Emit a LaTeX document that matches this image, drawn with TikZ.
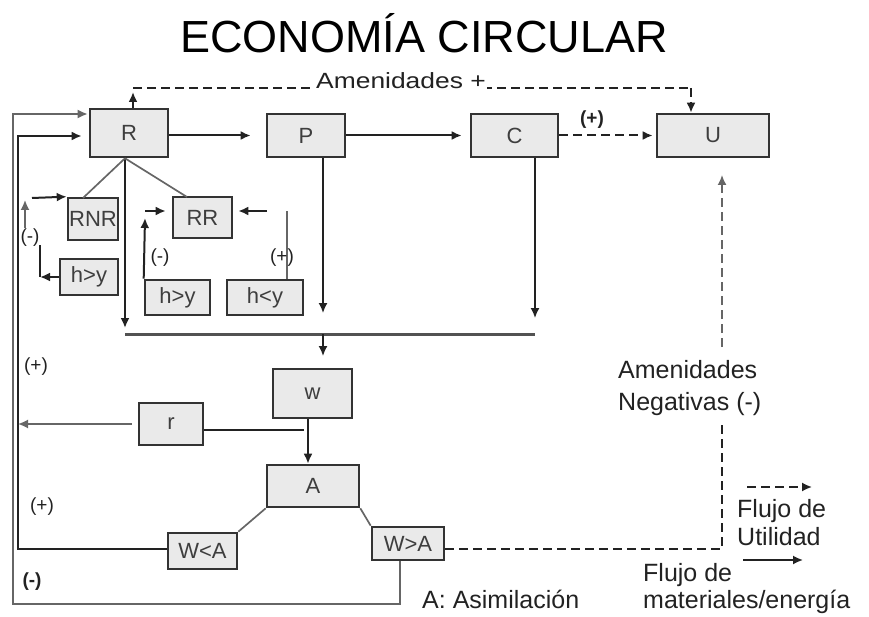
\documentclass[tikz,border=0pt]{standalone}
\usepackage{fontspec}
\setmainfont{Liberation Sans}
\usetikzlibrary{arrows.meta,calc}
\definecolor{boxfill}{HTML}{EAEAEA}
\definecolor{boxline}{HTML}{333333}
\definecolor{lnk}{HTML}{222222}
\definecolor{lgray}{HTML}{666666}
\definecolor{btext}{HTML}{3E3E3E}
\newcommand{\myfs}[2]{\fontsize{#1}{#2}\selectfont}
\begin{document}
\begin{tikzpicture}[x=1pt,y=-1pt,
  box/.style={draw=boxline, fill=boxfill, line width=2.6pt, inner sep=0pt, text=btext, font=\myfs{22}{25}},
  lk/.style={draw=lnk, line width=2pt},
  thinlk/.style={draw=lgray, line width=1.7pt},
  arr/.style={-{Latex[length=10pt,width=9pt]}},
  dashlk/.style={draw=lnk, line width=2pt, dash pattern=on 9pt off 5pt},
  lab/.style={font=\myfs{25}{28}, inner sep=0pt, anchor=base west, text=lnk},
  sgn/.style={font=\myfs{19}{22}, inner sep=0pt, text=lnk},
  bsgn/.style={font=\bfseries\myfs{19}{22}, inner sep=0pt, text=lnk}]
\useasboundingbox (0,0) rectangle (869,617);

% ---------- boxes ----------
\node[box, minimum width=78pt, minimum height=48pt] (R)   at (129,133)   {R};
\node[box, minimum width=78pt, minimum height=43pt] (P)   at (306,135.5) {P};
\node[box, minimum width=87pt, minimum height=43pt] (C)   at (514.5,135.5) {C};
\node[box, minimum width=112pt, minimum height=43pt] (U)  at (713,135.5)  {U};
\node[box, minimum width=50pt, minimum height=42pt] (RNR) at (93,219)    {RNR};
\node[box, minimum width=59pt, minimum height=41pt] (RR)  at (202.5,217.5) {RR};
\node[box, minimum width=58pt, minimum height=36pt] (hy1) at (89,277)    {h>y};
\node[box, minimum width=65pt, minimum height=35pt] (hy2) at (177.5,297.5) {h>y};
\node[box, minimum width=76pt, minimum height=35pt] (hly) at (265,297.5) {h<y};
\node[box, minimum width=79pt, minimum height=49pt] (W)   at (312.5,393.5) {w};
\node[box, minimum width=64pt, minimum height=42pt] (r)   at (171,424)   {r};
\node[box, minimum width=92pt, minimum height=42pt] (A)   at (313,486)   {A};
\node[box, minimum width=69pt, minimum height=36pt] (WlA) at (202.5,551) {W<A};
\node[box, minimum width=72pt, minimum height=33pt] (WgA) at (408,543.5) {W>A};

% ---------- title ----------
\node[font=\myfs{45}{50}, anchor=base, inner sep=0pt] (title) at (424,53) {ECONOMÍA CIRCULAR};

% ---------- Amenidades + ----------
\coordinate (amL) at (133,88);
\coordinate (amR) at (691,88);
\draw[lk, arr, shorten >=4pt] (R.north -| amL) -- (amL);
\draw[dashlk] (amL) -- (amR);
\draw[dashlk, arr] (amR) -- (amR |- U.north);
\node[font=\myfs{22}{24}, anchor=base, inner sep=1.5pt, fill=white, text=lnk] (amen) at (401,89) {\scalebox{1.2}[1]{Amenidades +}};

% ---------- main flow ----------
\draw[lk, arr, shorten >=15pt] (R.east |- P.west) -- (P.west);
\draw[lk, arr, shorten >=8pt] (P.east) -- (C.west);
\draw[dashlk, arr, shorten >=3pt] (C.east) -- (U.west);
\node[bsgn] (plusCU) at (592,120) {(+)};

% ---------- left feedback loops ----------
\coordinate (oB) at (13,604);
\coordinate (oT) at (13,114);
\draw[thinlk, arr, shorten >=1pt] ($(WgA.south)+(-8,0)$) |- (oB) -- (oT) -- (oT -| R.west);
\coordinate (iB) at (18,549);
\coordinate (iT) at (18,136);
\draw[lk, arr, shorten >=7pt] (WlA.west |- iB) -- (iB) -- (iT) -- (iT -| R.west);
\draw[thinlk, arr, shorten <=6pt] (r.west) -- (r.west -| iB);
\coordinate (rj) at (304,430);
\draw[lk] (r.east |- rj) -- (rj);

% ---------- w to A ----------
\coordinate (wa) at (308,440);
\draw[lk, line width=2.4pt, arr] (W.south -| wa) -- (A.north -| wa);

% ---------- collection line ----------
\coordinate (hL) at (125,334);
\coordinate (hR) at (535,334);
\coordinate (pd) at (323,313);
\coordinate (cd) at (535,318);
\coordinate (wd) at (323,356);
\draw[lk, arr, shorten >=6pt] (R.south -| hL) -- (hL);
\draw[lk, line width=1.6pt, arr] (P.south -| pd) -- (pd);
\draw[lk, line width=1.6pt, arr] (C.south -| cd) -- (cd);
\draw[draw=lgray!80!black, line width=3pt] (hL) -- (hR);
\draw[lk, line width=1.6pt, arr] (hL -| wd) -- (wd);

% ---------- R to resources ----------
\coordinate (rnrT) at (83,198);
\coordinate (rrT) at (187,197);
\draw[thinlk] (R.south -| hL) -- (rnrT);
\draw[thinlk] (R.south -| hL) -- (rrT);

% ---------- RNR feedback ----------
\coordinate (f1) at (32,198);
\coordinate (f2) at (25,228);
\coordinate (f3) at (25,200);
\coordinate (f4) at (40,280);
\coordinate (f5) at (40,245);
\draw[lk, arr] (f1) -- (RNR.north west);
\draw[thinlk, arr] (f2) -- (f3);
\draw[lk, arr] (hy1.west) -- (hy1.west -| f4);
\draw[lk] (hy1.west -| f4) -- (f5);
\node[sgn] (mRNR) at (30,238) {(-)};

% ---------- RR feedback ----------
\coordinate (g1) at (145,211);
\coordinate (g2) at (145,218);
\coordinate (g3) at (267,211);
\coordinate (g4) at (287,211);
\draw[lk, arr, shorten >=6pt] (g1) -- (RR.west |- g1);
\draw[lk, arr] (hy2.north west) -- (g2);
\draw[lk, arr, shorten >=5pt] (g3) -- (RR.east |- g3);
\draw[thinlk] (hly.north -| g4) -- (g4);
\node[sgn] (mRR) at (160,258) {(-)};
\node[sgn] (pRR) at (282,258) {(+)};

% ---------- assimilation ----------
\draw[thinlk] (A.south west) -- (WlA.north east);
\draw[thinlk] (A.south east) -- (WgA.north west);

% ---------- negative amenities ----------
\coordinate (d1) at (722,549);
\coordinate (d2) at (722,422);
\coordinate (d3) at (722,347);
\coordinate (d4) at (722,175);
\draw[dashlk, line width=1.8pt] (WgA.east |- d1) -- (d1) -- (d2);
\draw[dashlk, line width=1.6pt, draw=lgray, arr] (d3) -- (d4);
\node[lab] (neg1) at (618,378) {Amenidades};
\node[lab] (neg2) at (618,410) {Negativas (-)};

% ---------- left signs ----------
\node[sgn] (pL1) at (36,367) {(+)};
\node[sgn] (pL2) at (42,507) {(+)};
\node[bsgn] (mL) at (32,582) {(-)};

% ---------- legend ----------
\coordinate (l1) at (747,487);
\coordinate (l2) at (812,487);
\coordinate (l3) at (743,560);
\coordinate (l4) at (803,560);
\draw[dashlk, line width=1.7pt, arr] (l1) -- (l2);
\node[lab] (fu1) at (737,517) {Flujo de};
\node[lab] (fu2) at (737,545) {Utilidad};
\draw[lk, line width=1.7pt, arr] (l3) -- (l4);
\node[lab] (fm1) at (643,581) {Flujo de};
\node[lab] (fm2) at (643,608) {materiales/energía};
\node[lab] (asim) at (422,608) {A: Asimilación};
\end{tikzpicture}
\end{document}
